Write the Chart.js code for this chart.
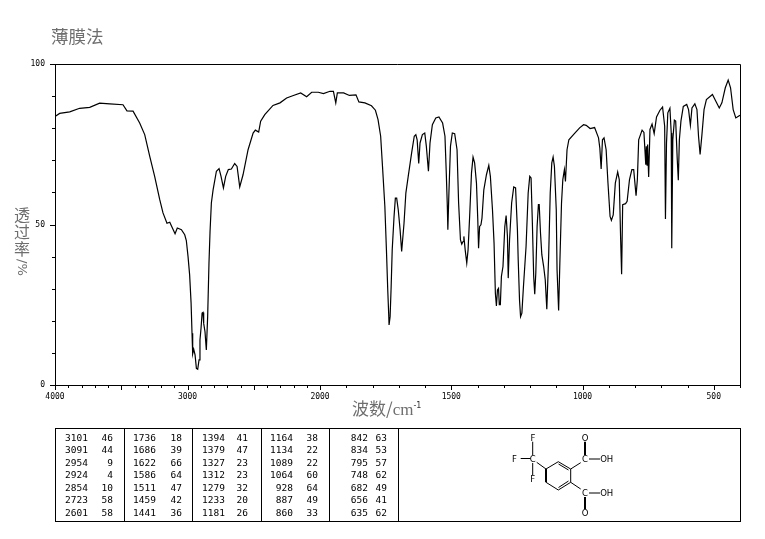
<!DOCTYPE html>
<html>
<head>
<meta charset="utf-8">
<script src="https://cdn.jsdelivr.net/npm/chart.js@4/dist/chart.umd.js"></script>
<style>
  html, body { margin: 0; padding: 0; background: #fff; }
  #page { position: relative; width: 765px; height: 539px; overflow: hidden; }
  canvas { position: absolute; left: 0; top: 0; }
  .label { position: absolute; color: #6e6e6e; font-family: "Noto Sans CJK SC", sans-serif; white-space: nowrap; line-height: 1; }
  #title { left: 51px; top: 27px; font-size: 17.5px; }
  #ytitle { left: 14px; top: 206px; width: 16px; font-size: 16px; text-align: center; }
  #ytitle span { display: block; height: 17px; }
  #ytitle span.side { writing-mode: vertical-rl; height: 20px; margin: 0 auto; font-family: "DejaVu Sans", sans-serif; font-size: 13px; }
  #xtitle { left: 352px; top: 399px; font-size: 17px; }
  #xtitle i { font-family: "Liberation Serif", serif; font-style: normal; }
  #xtitle sup { font-family: "DejaVu Sans", sans-serif; font-size: 8px; line-height: 0; color: #333; }
  #peaks { position: absolute; left: 55px; top: 428px; width: 684px; height: 92px; border: 1px solid #000; }
  .rule { position: absolute; top: 0; width: 1px; height: 92px; background: #000; }
  .cell { position: absolute; font: 9.5px "DejaVu Sans Mono", monospace; line-height: 12px; color: #000; text-align: right; }
  svg { position: absolute; left: 0; top: 0; }
  svg text { font: 8.5px "DejaVu Sans", sans-serif; fill: #000; text-anchor: middle; dominant-baseline: central; }
</style>
</head>
<body>
<div id="page">
  <canvas id="irChart" width="765" height="539"></canvas>
  <div class="label" id="title">薄膜法</div>
  <div class="label" id="ytitle"><span>透</span><span>过</span><span>率</span><span class="side">/%</span></div>
  <div class="label" id="xtitle">波数/<i>cm</i><sup>-1</sup></div>
  <div id="peaks"></div>
  <svg width="765" height="539" stroke="#000" stroke-width="1" fill="none">
    <line x1="536.7" y1="462.3" x2="546" y2="469"/>
    <line x1="520.7" y1="458.5" x2="530.5" y2="458.5"/>
    <line x1="532.7" y1="441.7" x2="532.7" y2="455"/>
    <line x1="532.7" y1="463" x2="532.7" y2="475"/>
    <line x1="546" y1="469" x2="558.3" y2="461.7"/>
    <line x1="558.3" y1="461.7" x2="570.7" y2="469"/>
    <line x1="558.5" y1="464" x2="568.5" y2="470"/>
    <line x1="570.7" y1="469" x2="570.7" y2="482.3"/>
    <line x1="570.7" y1="482.3" x2="558.3" y2="490"/>
    <line x1="568.5" y1="481" x2="558.5" y2="487.5"/>
    <line x1="558.3" y1="490" x2="546" y2="482.3"/>
    <line x1="546" y1="482.3" x2="546" y2="469" stroke-width="2"/>
    <line x1="570.7" y1="469" x2="580.7" y2="462.7"/>
    <line x1="570.7" y1="482.3" x2="580.7" y2="489"/>
    <line x1="585" y1="441.7" x2="585" y2="455" stroke-width="2"/>
    <line x1="585" y1="497" x2="585" y2="509" stroke-width="2"/>
    <line x1="589" y1="459" x2="600" y2="459"/>
    <line x1="589" y1="493" x2="600" y2="493"/>
    <g stroke="none">
      <text x="533" y="437.7">F</text>
      <text x="514.5" y="459">F</text>
      <text x="532.7" y="459">C</text>
      <text x="532.7" y="479">F</text>
      <text x="585" y="437.7">O</text>
      <text x="585" y="459">C</text>
      <text x="606.7" y="459">OH</text>
      <text x="585" y="492.7">C</text>
      <text x="606.7" y="493">OH</text>
      <text x="585" y="513.3">O</text>
    </g>
  </svg>
</div>
<script>
const wavenumbers = [3997, 3965, 3889, 3814, 3738, 3663, 3587, 3487, 3457, 3411, 3361, 3323, 3285, 3248, 3210, 3185, 3155, 3134, 3114, 3094, 3077, 3046, 3021, 3009, 2996, 2984, 2973, 2966, 2961, 2953, 2943, 2933, 2923, 2913, 2906, 2898, 2890, 2883, 2878, 2868, 2858, 2853, 2848, 2838, 2830, 2820, 2807, 2782, 2762, 2747, 2729, 2712, 2692, 2669, 2644, 2626, 2606, 2581, 2543, 2505, 2488, 2463, 2448, 2417, 2355, 2302, 2252, 2201, 2146, 2101, 2063, 2013,
  1987, 1962, 1949, 1940, 1934, 1910, 1888, 1863, 1852, 1829, 1804, 1789, 1779, 1769, 1762, 1753, 1747, 1742, 1738, 1737, 1733, 1729, 1725, 1718, 1713, 1708, 1702, 1695, 1689, 1680, 1673, 1664, 1651, 1641, 1635, 1630, 1624, 1619, 1610, 1601, 1595, 1587, 1581, 1572, 1559, 1547, 1533, 1524, 1519, 1515, 1513, 1509, 1503, 1496, 1487, 1478, 1472, 1465, 1460, 1455, 1452, 1447, 1441, 1436, 1430, 1423, 1417, 1411, 1404, 1399, 1396, 1392, 1387, 1383, 1376, 1366, 1357, 1351, 1343, 1337, 1332, 1328, 1324, 1320, 1317, 1313, 1309, 1303, 1296, 1291, 1286, 1283, 1278, 1270, 1262, 1255, 1248, 1245, 1240, 1236, 1231, 1225, 1215, 1207, 1201, 1196, 1191, 1186, 1182, 1178, 1173, 1168, 1165, 1160, 1155, 1148, 1142, 1136, 1129, 1123, 1117, 1112, 1107, 1100, 1097, 1091, 1086, 1080, 1075, 1069, 1065, 1059, 1052, 1031, 1011, 996, 986, 971, 954, 939, 934, 929, 924, 918, 910, 903, 895, 890, 883, 875, 866, 860, 855, 851, 847, 836, 830, 821, 812, 805, 796, 791, 786, 773, 766, 759, 757, 754, 752, 748, 743, 735, 727, 718, 705, 695, 687, 684, 680, 675, 667, 662, 660, 656, 650, 645, 639, 635, 631, 625, 616, 603, 596, 589, 583, 572, 564, 558, 552, 545, 537, 528, 505, 492, 479, 469, 456, 445, 436, 426, 416, 406, 400];
const transmittance = [83.7, 84.6, 85.1, 86.2, 86.5, 87.8, 87.6, 87.3, 85.4, 85.3, 81.6, 78, 71.2, 65, 57.8, 53.6, 50.4, 50.7, 48.9, 47.1, 48.9, 48.4, 46.8, 45, 40, 34.3, 25.5, 16.1, 9.7, 11.1, 9.4, 5.2, 4.9, 7.8, 14, 17.7, 22.4, 22.6, 19.2, 16.6, 10.9, 10.9, 21.3, 38, 47.8, 56.7, 60.8, 66.6, 67.4, 65, 61.4, 65, 67.1, 67.3, 69, 68.1, 61.7, 65.5, 73.3, 78.5, 79.4, 78.8, 82.2, 84.2, 87.1, 87.9, 89.4, 90.2, 91, 89.8, 91.2, 91.2,
  90.8, 91.5, 91.5, 87.9, 91, 91, 90.2, 90.4, 88.2, 87.9, 87, 85.6, 82.7, 77.5, 68.1, 55.6, 42.1, 29.6, 21.3, 18.7, 21.3, 30.7, 42.1, 52.5, 58.2, 58.2, 54.6, 48.4, 41.6, 50.4, 59.8, 65, 72.3, 77.5, 78, 76.4, 69, 75.4, 78, 78.5, 74.4, 66.6, 75.4, 81.1, 83.2, 83.5, 81.6, 77.5, 66, 55.6, 48.4, 59.8, 74.4, 78.5, 78.3, 73.3, 56.7, 45.2, 43.9, 44.7, 46.3, 42.1, 38, 42.1, 52.5, 66, 71, 69.2, 62.9, 51.5, 42.6, 49.4, 49.9, 52, 60.8, 65.5, 68.4, 65, 54.6, 44.2, 28.6, 24.6, 29.6, 30.1, 25, 25, 33.8, 36.9, 49.4, 52.8, 46.3, 33.3, 45.2, 56.7, 61.7, 61.4, 48.4, 39, 26.5, 21.3, 22.4, 30.7, 43.2, 59.8, 65, 64.5, 50.4, 33.8, 28.3, 34.8, 49.4, 56.2, 56.2, 47.3, 40.6, 36.9, 32.8, 23.6, 40, 59.8, 69.2, 71, 68.1, 54.6, 35.9, 23.2, 39, 56.7, 64, 67.1, 63.4, 73.3, 76.4, 78.3, 80.1, 81.1, 80.9, 79.9, 80.2, 77, 73.8, 67.3, 76.4, 77, 73.3, 62.9, 52.5, 51.3, 53, 62.9, 66.4, 64, 46.3, 34.5, 56.2, 56.5, 57.2, 64, 67.1, 67.1, 59, 64, 76.4, 79.4, 78.7, 68.6, 74.4, 68.5, 74.9, 64.8, 79.6, 81.3, 78.3, 83.5, 85.6, 86.6, 80.6, 51.7, 75.4, 84.8, 86.2, 78.5, 42.6, 76.4, 82.5, 82.2, 70.2, 63.8, 76.4, 82.2, 86.8, 87.4, 85.8, 80.9, 86.3, 87.6, 85.8, 77.5, 71.8, 78, 85.8, 88.9, 90.5, 88.4, 86.3, 87.9, 92.6, 95, 92.6, 85.8, 83.2, 83.7, 84];

const xTicks = [4000, 3900, 3800, 3700, 3600, 3500, 3400, 3300, 3200, 3100, 3000, 2900, 2800, 2700, 2600, 2500, 2400, 2300, 2200, 2100, 2000, 1900, 1800, 1700, 1600, 1500, 1400, 1300, 1200, 1100, 1000, 900, 800, 700, 600, 500, 400];
const xTickLabels = [4000, 3000, 2000, 1500, 1000, 500];
const yTickLabels = [100, 50, 0];

const peakWave = [
  [3101, 3091, 2954, 2924, 2854, 2723, 2601],
  [1736, 1686, 1622, 1586, 1511, 1459, 1441],
  [1394, 1379, 1327, 1312, 1279, 1233, 1181],
  [1164, 1134, 1089, 1064, 928, 887, 860],
  [842, 834, 795, 748, 682, 656, 635]
];
const peakT = [
  [46, 44, 9, 4, 10, 58, 58],
  [18, 39, 66, 64, 47, 42, 36],
  [41, 47, 23, 23, 32, 20, 26],
  [38, 22, 22, 60, 64, 49, 33],
  [63, 53, 57, 62, 49, 41, 62]
];

// the spectrum axis is compressed twofold above 2000 cm-1
class WavenumberScale extends Chart.LinearScale {
  static id = "wavenumber";
  buildTicks() {
    return xTicks.map(v => ({ value: v, major: v % 500 === 0 }));
  }
  getPixelForValue(value) {
    const brk = this.options.breakValue, pos = this.options.breakPos;
    const frac = value >= brk
      ? (this.max - value) / (this.max - brk) * pos
      : pos + (brk - value) / (brk - this.min) * (1 - pos);
    return this.getPixelForDecimal(frac);
  }
  getValueForPixel(pixel) {
    const brk = this.options.breakValue, pos = this.options.breakPos;
    const frac = this.getDecimalForPixel(pixel);
    return frac <= pos
      ? this.max - frac / pos * (this.max - brk)
      : brk - (frac - pos) / (1 - pos) * (brk - this.min);
  }
}
Chart.register(WavenumberScale);

// tick marks come in two lengths, which the built-in grid can't do
const frameAndTicks = {
  id: "frameAndTicks",
  afterDraw(chart) {
    const { ctx, chartArea: a, scales: { x, y } } = chart;
    ctx.save();
    ctx.strokeStyle = "#000";
    ctx.lineWidth = 1;
    ctx.beginPath();
    ctx.moveTo(a.left, a.top + 0.5);
    ctx.lineTo(a.right + 0.5, a.top + 0.5);
    ctx.lineTo(a.right + 0.5, a.bottom);
    x.ticks.forEach(t => {
      const px = Math.round(x.getPixelForValue(t.value)) + 0.5;
      ctx.moveTo(px, a.bottom);
      ctx.lineTo(px, a.bottom + (t.value % 500 === 0 ? 5 : 3));
    });
    y.ticks.forEach(t => {
      const py = Math.round(y.getPixelForValue(t.value)) + 0.5;
      ctx.moveTo(a.left, py);
      ctx.lineTo(a.left - (t.value % 50 === 0 ? 5 : 3), py);
    });
    ctx.stroke();
    ctx.restore();
  }
};

const tickFont = { family: "'DejaVu Sans Mono', monospace", size: 8 };

new Chart(document.getElementById("irChart"), {
  type: "line",
  data: {
    datasets: [{
      data: wavenumbers.map((w, i) => ({ x: w, y: transmittance[i] })),
      borderColor: "#000",
      borderWidth: 1.2,
      pointRadius: 0,
      tension: 0,
      fill: false
    }]
  },
  options: {
    responsive: false,
    animation: false,
    devicePixelRatio: 1,
    layout: { autoPadding: false, padding: { left: 0, top: 64, right: 25, bottom: 134 } },
    plugins: { legend: { display: false }, tooltip: { enabled: false }, title: { display: false } },
    scales: {
      x: {
        type: "wavenumber",
        min: 400,
        max: 4000,
        breakValue: 2000,
        breakPos: 0.3869,
        afterFit(s) { s.height = 20; },
        grid: { display: false, drawTicks: false },
        border: { color: "#000" },
        ticks: {
          autoSkip: false, maxRotation: 0, padding: 7, color: "#000", font: tickFont,
          callback: v => xTickLabels.includes(v) ? String(v) : ""
        }
      },
      y: {
        min: 0,
        max: 100,
        afterFit(s) { s.width = 55; },
        grid: { display: false, drawTicks: false },
        border: { color: "#000" },
        ticks: {
          stepSize: 10, autoSkip: false, padding: 10, color: "#000", font: tickFont,
          callback: v => yTickLabels.includes(v) ? String(v) : ""
        }
      }
    }
  },
  plugins: [frameAndTicks]
});

// peak table under the spectrum
const peaks = document.getElementById("peaks");
const ruleLefts = [68, 136, 205, 273, 342];
const waveRights = [32, 100, 169, 237, 312];
const valueRights = [57, 126, 192, 262, 331];
const rowTops = [3, 15, 28, 40, 53, 65, 78];
ruleLefts.forEach(left => {
  const r = document.createElement("div");
  r.className = "rule";
  r.style.left = left + "px";
  peaks.appendChild(r);
});
function addCell(text, right, top) {
  const c = document.createElement("div");
  c.className = "cell";
  c.textContent = text;
  c.style.right = (684 - right) + "px";
  c.style.top = top + "px";
  peaks.appendChild(c);
}
peakWave.forEach((col, i) => col.forEach((w, j) => {
  addCell(w, waveRights[i], rowTops[j]);
  addCell(peakT[i][j], valueRights[i], rowTops[j]);
}));
</script>
</body>
</html>
